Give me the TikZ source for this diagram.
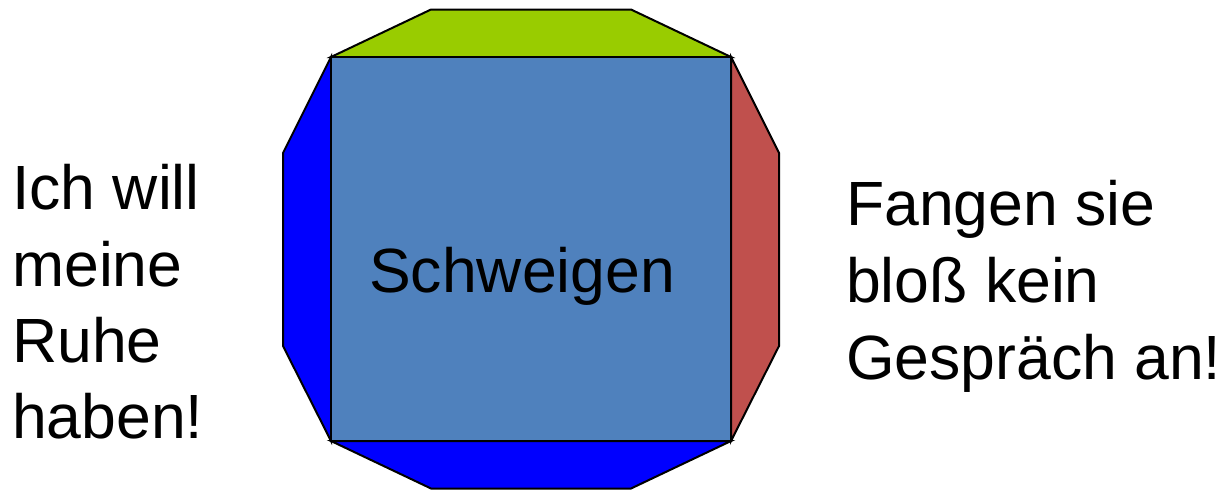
\documentclass[tikz,border=0pt]{standalone}
\usepackage{fontspec}
\setmainfont{Liberation Sans}
\definecolor{coreblue}{HTML}{4F81BD}
\definecolor{topgreen}{HTML}{99CC00}
\definecolor{sideblue}{HTML}{0000FF}
\definecolor{sidered}{HTML}{C0504D}
\begin{document}
\begin{tikzpicture}[x=1pt,y=-1pt,
  facet/.style={draw=black,line width=2pt,line join=miter},
  words/.style={font=\fontsize{62.5}{77}\selectfont,inner sep=0pt,anchor=base west}]
\useasboundingbox (0,0) rectangle (1229,490);
% corners of the central square
\coordinate (tl) at (331,57);
\coordinate (tr) at (731,57);
\coordinate (br) at (731,441);
\coordinate (bl) at (331,441);
% the four surrounding facets
\draw[facet,fill=topgreen] (tl) -- (431,9.5) -- (631,9.5) -- (tr) -- cycle;
\draw[facet,fill=sideblue] (bl) -- (431,488.5) -- (631,488.5) -- (br) -- cycle;
\draw[facet,fill=sideblue] (tl) -- (283,153) -- (283,346) -- (bl) -- cycle;
\draw[facet,fill=sidered] (tr) -- (779,153) -- (779,346) -- (br) -- cycle;
% central square
\draw[facet,fill=coreblue] (tl) -- (tr) -- (br) -- (bl) -- cycle;
\node[words] (core) at (369,292) {Schweigen};
% left statement
\node[words] (l1) at (12,209) {Ich will};
\node[words] (l2) at (12,286) {meine};
\node[words] (l3) at (12,362) {Ruhe};
\node[words] (l4) at (12,438) {haben!};
% right statement
\node[words] (r1) at (846,225) {Fangen sie};
\node[words] (r2) at (846,302) {bloß kein};
\node[words] (r3) at (846,379) {Gespräch an!};
\end{tikzpicture}
\end{document}
